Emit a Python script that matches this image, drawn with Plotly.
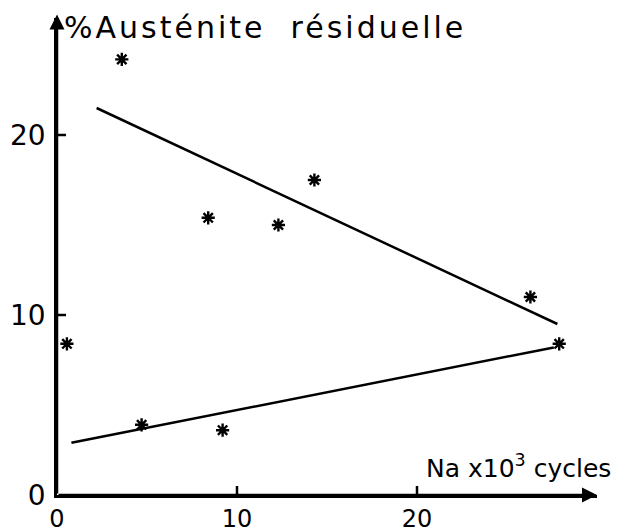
import plotly.graph_objects as go

# Data
pts_x = [3.6, 8.4, 12.3, 14.3, 26.3, 0.55, 4.7, 9.2, 27.9]
pts_y = [24.2, 15.4, 15.0, 17.5, 11.0, 8.4, 3.9, 3.6, 8.4]

upper_x = [2.2, 27.8]
upper_y = [21.5, 9.5]
lower_x = [0.8, 27.6]
lower_y = [2.9, 8.2]

xticks = [0, 10, 20]
yticks = [0, 10, 20]

FONT = "DejaVu Sans"
TICK = 0.5  # tick length in data units (~9 px)

fig = go.Figure()
fig.add_trace(go.Scatter(x=upper_x, y=upper_y, mode="lines",
                         line=dict(color="black", width=2.5), showlegend=False))
fig.add_trace(go.Scatter(x=lower_x, y=lower_y, mode="lines",
                         line=dict(color="black", width=2.5), showlegend=False))
fig.add_trace(go.Scatter(x=pts_x, y=pts_y, mode="markers",
                         marker=dict(symbol="asterisk-open", size=11, color="black",
                                     line=dict(color="black", width=2.4)),
                         showlegend=False, cliponaxis=False))

# inside tick marks built from tick arrays
tx, ty = [], []
for t in xticks[1:]:
    tx += [t, t, None]
    ty += [0, TICK, None]
for t in yticks[1:]:
    tx += [0, TICK, None]
    ty += [t, t, None]
fig.add_trace(go.Scatter(x=tx, y=ty, mode="lines", line=dict(color="black", width=2.5),
                         showlegend=False, hoverinfo="skip", cliponaxis=False))

# axis arrows
fig.add_annotation(x=30, y=0, ax=0, ay=0, xref="x", yref="y", axref="x", ayref="y",
                   showarrow=True, arrowhead=2, arrowsize=1.2, arrowwidth=2.5,
                   arrowcolor="black", text="")
fig.add_annotation(x=0, y=26.7, ax=0, ay=0, xref="x", yref="y", axref="x", ayref="y",
                   showarrow=True, arrowhead=2, arrowsize=1.2, arrowwidth=2.5,
                   arrowcolor="black", text="")

fig.add_annotation(x=0.3, y=26.0, xref="x", yref="y", xanchor="left", yanchor="middle",
                   text='<span style="letter-spacing:3px">%Austénite  résiduelle</span>',
                   showarrow=False, font=dict(family=FONT, size=30, color="black"))
fig.add_annotation(x=1.03, y=0.06, xref="paper", yref="paper", xanchor="right", yanchor="middle",
                   text="Na x10<sup>3</sup> cycles",
                   showarrow=False, font=dict(family=FONT, size=25, color="black"))

fig.update_xaxes(range=[0, 30], tickvals=xticks, ticktext=[str(t) for t in xticks],
                 showgrid=False, zeroline=False, showline=True, linecolor="black", linewidth=2.5,
                 ticks="", ticklen=0, ticklabelstandoff=0, automargin=False,
                 tickfont=dict(family=FONT, size=24, color="black"))
fig.update_yaxes(range=[0, 26.5], tickvals=yticks, ticktext=[str(t) for t in yticks],
                 showgrid=False, zeroline=False, showline=True, linecolor="black", linewidth=2.5,
                 ticks="", ticklabelstandoff=3, automargin=False,
                 tickfont=dict(family=FONT, size=28, color="black"))

fig.update_layout(width=630, height=532, plot_bgcolor="white", paper_bgcolor="white",
                  margin=dict(l=57, r=33, t=18, b=37))

fig.write_html("out.html")
